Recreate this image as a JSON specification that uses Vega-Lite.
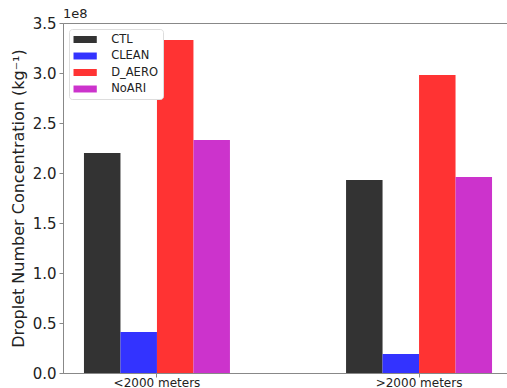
{
  "$schema": "https://vega.github.io/schema/vega-lite/v6.json",
  "width": 450,
  "height": 350,
  "padding": {"left": 10, "top": 8, "right": 0, "bottom": 0},
  "title": {"text": "1e8", "anchor": "start", "frame": "group", "fontSize": 13, "fontWeight": "normal", "font": "DejaVu Sans", "offset": -5, "color": "#222"},
  "data": {"values": [
    {"group": "<2000 meters", "run": "CTL", "value": 2.2},
    {"group": "<2000 meters", "run": "CLEAN", "value": 0.41},
    {"group": "<2000 meters", "run": "D_AERO", "value": 3.33},
    {"group": "<2000 meters", "run": "NoARI", "value": 2.33},
    {"group": ">2000 meters", "run": "CTL", "value": 1.93},
    {"group": ">2000 meters", "run": "CLEAN", "value": 0.19},
    {"group": ">2000 meters", "run": "D_AERO", "value": 2.98},
    {"group": ">2000 meters", "run": "NoARI", "value": 1.96}
  ]},
  "mark": {"type": "bar"},
  "encoding": {
    "x": {"field": "group", "type": "nominal", "sort": ["<2000 meters", ">2000 meters"],
      "scale": {"paddingInner": 0.443, "paddingOuter": 0.08},
      "axis": {"title": null, "labelAngle": 0, "labelFontSize": 12, "labelColor": "#222", "tickColor": "#888", "domainColor": "#888", "tickSize": 4, "labelPadding": 0}},
    "xOffset": {"field": "run", "type": "nominal", "sort": ["CTL", "CLEAN", "D_AERO", "NoARI"], "scale": {"paddingInner": 0, "paddingOuter": 0}},
    "y": {"field": "value", "type": "quantitative", "scale": {"domain": [0, 3.5], "nice": false},
      "axis": {"values": [0, 0.5, 1, 1.5, 2, 2.5, 3, 3.5], "format": ".1f", "grid": false, "title": "Droplet Number Concentration (kg⁻¹)", "titleFontSize": 16, "titleFontWeight": "normal", "titleColor": "#222", "labelFontSize": 15, "labelColor": "#222", "tickColor": "#888", "domainColor": "#888", "tickSize": 4, "labelPadding": 3, "titlePadding": 6}},
    "color": {"field": "run", "type": "nominal",
      "scale": {"domain": ["CTL", "CLEAN", "D_AERO", "NoARI"], "range": ["#333333", "#3333ff", "#ff3333", "#cc33cc"]},
      "legend": {"title": null, "orient": "top-left", "offset": 5.5, "padding": 4.5, "strokeColor": "#ddd", "fillColor": "white", "cornerRadius": 3,
        "symbolType": "M-1.94,-0.58H1.94V0.58H-1.94Z", "symbolSize": 144, "symbolOffset": 5.65, "symbolStrokeWidth": 0, "labelFontSize": 11.5, "labelColor": "#222", "rowPadding": 4.5, "labelOffset": 20}}
  },
  "config": {"view": {"stroke": "#888"}, "font": "DejaVu Sans"}
}
